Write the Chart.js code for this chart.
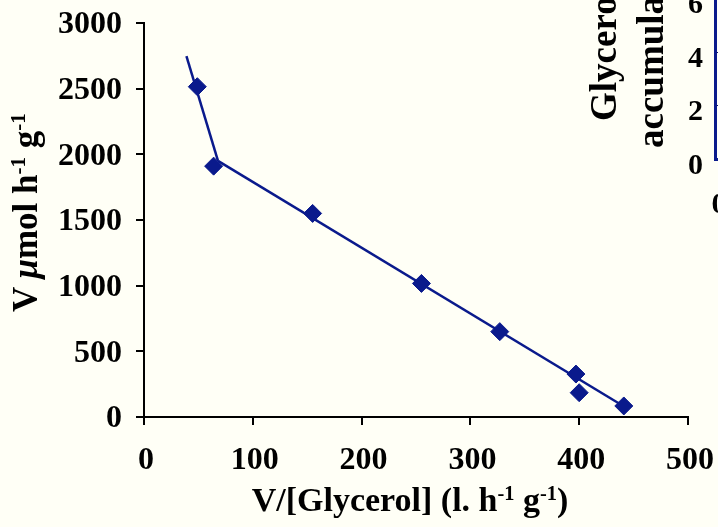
<!DOCTYPE html>
<html><head><meta charset="utf-8">
<script src="https://cdn.jsdelivr.net/npm/chart.js@4"></script>
<style>
html,body{margin:0;padding:0;background:#FFFFF6;overflow:hidden;width:718px;height:527px;}
#wrap{position:relative;width:718px;height:527px;overflow:hidden;background:#FFFFF6;}
#main{position:absolute;left:0;top:0;}
#inset{position:absolute;left:660px;top:-55px;}
.t{position:absolute;font-family:"Liberation Serif","Times New Roman",serif;font-weight:bold;color:#000;white-space:nowrap;line-height:normal;}
.t sup{font-size:0.6em;vertical-align:0.55em;line-height:0;}
#xt{font-size:34px;left:410px;top:500px;transform:translate(-50%,-50%);}
#yt{font-size:35px;left:6px;top:312px;transform-origin:left top;transform:rotate(-90deg);}
#it1{font-size:37px;left:582px;top:121px;transform-origin:left top;transform:rotate(-90deg);}
#it2{font-size:37px;left:629px;top:148px;transform-origin:left top;transform:rotate(-90deg);}
</style></head><body>
<div id="wrap">
<canvas id="main" width="718" height="527"></canvas>
<canvas id="inset" width="300" height="274"></canvas>
<div class="t" id="xt">V/[Glycerol] (l. h<sup>-1</sup> g<sup>-1</sup>)</div>
<div class="t" id="yt">V <i>&mu;</i>mol h<sup>-1</sup> g<sup>-1</sup></div>
<div class="t" id="it1">Glycerol</div>
<div class="t" id="it2">accumulation</div>
</div>
<script>
// ---- data ----
const xVals = [49, 64, 155, 255, 327, 397, 400, 441];
const yVals = [2515, 1910, 1550, 1017, 650, 327, 185, 84];
const fit1X = [39, 68];
const fit1Y = [2747, 1950];
const fit2X = [68, 442];
const fit2Y = [1950, 76];
const xTicks = [0, 100, 200, 300, 400, 500];
const yTicks = [0, 500, 1000, 1500, 2000, 2500, 3000];
const insetYTicks = [0, 2, 4, 6, 8];
const insetXTicks = [0];

const NAVY = '#0A1A8C';
const FONT = '"Liberation Serif","Times New Roman",serif';
const pts = (xs, ys) => xs.map((x, i) => ({x: x, y: ys[i]}));
const plain = v => String(v);
const noPad = s => { s.paddingLeft = 0; s.paddingRight = 0; s.paddingTop = 0; s.paddingBottom = 0; };

new Chart(document.getElementById('main'), {
  type: 'scatter',
  data: {
    datasets: [
      {data: pts(xVals, yVals), pointStyle: 'rectRot', pointRadius: 9, pointBorderWidth: 1,
       backgroundColor: NAVY, borderColor: NAVY, showLine: false},
      {data: pts(fit1X, fit1Y), showLine: true, pointRadius: 0, borderColor: NAVY, borderWidth: 2.5},
      {data: pts(fit2X, fit2Y), showLine: true, pointRadius: 0, borderColor: NAVY, borderWidth: 2.5}
    ]
  },
  options: {
    responsive: false, devicePixelRatio: 1, animation: false,
    layout: {padding: {left: 0, top: 23, right: 30, bottom: 0}},
    plugins: {legend: {display: false}, tooltip: {enabled: false}},
    scales: {
      x: {
        type: 'linear', min: 0, max: 500,
        afterBuildTicks: s => { s.ticks = xTicks.map(v => ({value: v})); },
        afterFit: s => { s.height = 110; noPad(s); },
        grid: {drawOnChartArea: false, drawTicks: true, tickLength: 8, color: '#000', lineWidth: 2},
        border: {display: true, color: '#000', width: 2},
        ticks: {color: '#000', padding: 17, labelOffset: 2, callback: plain, font: {family: FONT, size: 32, weight: 'bold'}, maxRotation: 0}
      },
      y: {
        type: 'linear', min: 0, max: 3000,
        afterBuildTicks: s => { s.ticks = yTicks.map(v => ({value: v})); },
        afterFit: s => { s.width = 144; noPad(s); },
        grid: {drawOnChartArea: false, drawTicks: true, tickLength: 8, color: '#000', lineWidth: 2},
        border: {display: true, color: '#000', width: 2},
        ticks: {color: '#000', padding: 14, labelOffset: 2, callback: plain, font: {family: FONT, size: 32, weight: 'bold'}}
      }
    }
  }
});

new Chart(document.getElementById('inset'), {
  type: 'scatter',
  data: {datasets: []},
  options: {
    responsive: false, devicePixelRatio: 1, animation: false,
    layout: {padding: 0},
    plugins: {legend: {display: false}, tooltip: {enabled: false}},
    scales: {
      x: {
        type: 'linear', min: 0, max: 10,
        afterBuildTicks: s => { s.ticks = insetXTicks.map(v => ({value: v})); },
        afterFit: s => { s.height = 60; noPad(s); },
        grid: {drawOnChartArea: false, drawTicks: false},
        border: {display: true, color: NAVY, width: 3},
        ticks: {color: '#000', padding: 28, labelOffset: 4, callback: plain, font: {family: FONT, size: 30, weight: 'bold'}, maxRotation: 0}
      },
      y: {
        type: 'linear', min: 0, max: 8,
        afterBuildTicks: s => { s.ticks = insetYTicks.map(v => ({value: v})); },
        afterFit: s => { s.width = 55; noPad(s); },
        grid: {drawOnChartArea: true, drawTicks: false, color: '#14145A', lineWidth: 1},
        border: {display: true, color: NAVY, width: 3},
        ticks: {color: '#000', padding: 12, labelOffset: 7, callback: plain, font: {family: FONT, size: 30, weight: 'bold'}}
      }
    }
  }
});
</script>
</body></html>
